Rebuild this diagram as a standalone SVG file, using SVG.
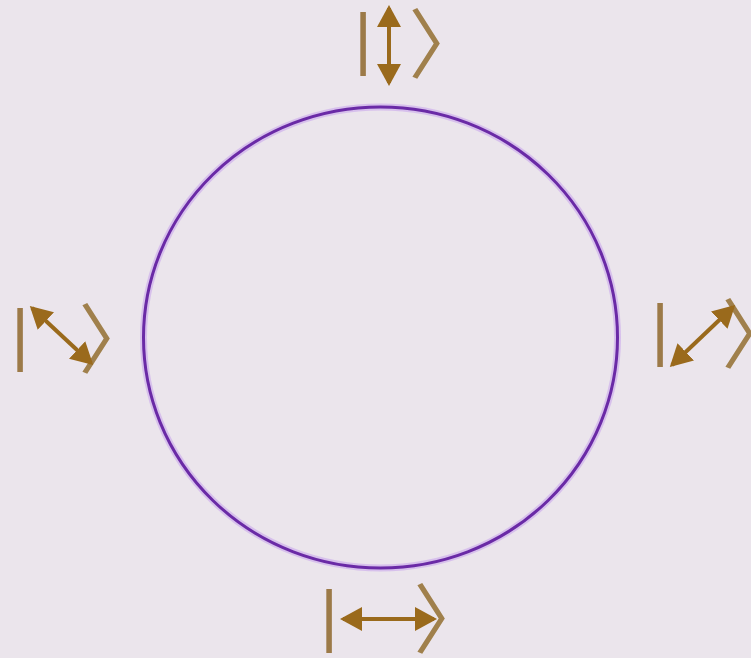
<svg xmlns="http://www.w3.org/2000/svg" width="751" height="658" viewBox="0 0 751 658">
<style>
.bar{fill:#9c7a48;font-family:"Liberation Sans",sans-serif;font-size:68px;text-anchor:middle}
.br{fill:#a0804c;font-family:"Noto Sans CJK SC",sans-serif;font-weight:400;font-size:76px}
.arr{stroke:#9a6a1c;stroke-width:4;fill:none;marker-start:url(#ah);marker-end:url(#ah)}
</style>
<defs>
<marker id="ah" markerUnits="userSpaceOnUse" markerWidth="22" markerHeight="24" refX="19" refY="12" orient="auto-start-reverse" viewBox="0 0 22 24">
<path d="M0,0 L22,12 L0,24 z" fill="#9a6a1c"/>
</marker>
</defs>
<rect width="751" height="658" fill="#ebe5ec"/>
<g id="circle">
<ellipse cx="380.5" cy="337.5" rx="237" ry="230.5" fill="none" stroke="#caa6ec" stroke-width="7" opacity="0.6"/>
<ellipse cx="380.5" cy="337.5" rx="237" ry="230.5" fill="none" stroke="#6a2aa6" stroke-width="3"/>
</g>
<g id="ket-top">
<text class="bar" x="363" y="62">|</text>
<text class="br" x="408.5" y="72">〉</text>
</g>
<g id="ket-bottom">
<text class="bar" x="329" y="639">|</text>
<text class="br" x="413.5" y="647">〉</text>
</g>
<g id="ket-left">
<text class="bar" x="20" y="358">|</text>
<text class="br" x="78.5" y="367">〉</text>
</g>
<g id="ket-right">
<text class="bar" x="660" y="353">|</text>
<text class="br" x="721.5" y="362">〉</text>
</g>
<g id="connectors">
<line class="arr" x1="389" y1="8" x2="389" y2="83"/>
<line class="arr" x1="343" y1="619" x2="434" y2="619"/>
<line class="arr" x1="32" y1="308" x2="91" y2="363"/>
<line class="arr" x1="672" y1="365" x2="733" y2="307"/>
</g>
</svg>
